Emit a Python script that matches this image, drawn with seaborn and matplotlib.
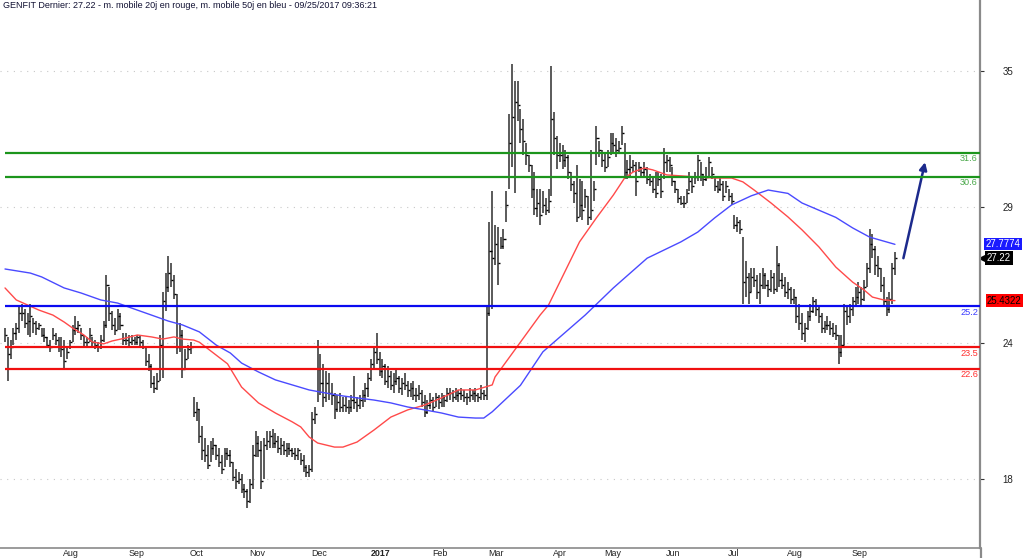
import matplotlib
matplotlib.use('Agg')
import matplotlib.pyplot as plt
import matplotlib.transforms as mtransforms
from matplotlib.lines import Line2D
import pandas as pd
import seaborn as sns

# trading days shown (Euronext holidays removed)
holidays = ['2016-12-26', '2017-04-14', '2017-04-17', '2017-05-01']
dates = pd.bdate_range('2016-07-04', '2017-09-25').drop(pd.to_datetime(holidays))

high = [
    # Jul 2016
    24.3, 23.9, 23.8, 24.3, 24.5, 25.2, 25.3, 25.1, 24.9, 25.3, 24.7, 24.6, 24.5, 24.3, 24.3, 23.9, 23.8, 24.3, 24.1, 23.9,
    # Aug
    23.9, 23.8, 23.5, 23.8, 24.4, 24.8, 24.6, 24.3, 24.0, 23.9, 24.3, 23.9, 23.8, 23.7, 24.0, 24.6, 26.5, 26.0, 25.0, 24.7, 25.1, 24.9, 24.1,
    # Sep
    24.1, 24.0, 24.0, 23.9, 24.0, 24.0, 23.8, 23.5, 23.2, 22.8, 22.3, 22.4, 24.0, 25.8, 26.6, 27.3, 27.0, 26.5, 25.7, 24.5, 24.2, 23.4,
    # Oct
    23.6, 23.7, 21.4, 21.2, 20.9, 20.2, 19.7, 19.4, 19.6, 19.7, 19.4, 19.3, 19.0, 19.3, 19.3, 19.2, 18.7, 18.4, 18.3, 18.2, 17.8,
    # Nov
    17.6, 18.0, 19.4, 20.0, 19.8, 19.6, 19.7, 20.0, 20.0, 20.1, 19.9, 19.8, 19.7, 19.6, 19.5, 19.5, 19.3, 19.3, 19.3, 19.1, 19.0, 18.6,
    # Dec
    18.6, 20.8, 21.0, 23.8, 23.2, 22.8, 22.5, 22.4, 22.0, 21.6, 21.5, 21.6, 21.4, 21.4, 21.3, 21.5, 22.3, 21.4, 21.5, 21.7, 22.0,
    # Jan 2017
    22.4, 23.0, 23.5, 24.1, 23.3, 23.0, 22.8, 22.7, 22.5, 22.4, 22.6, 22.3, 22.2, 22.4, 22.1, 22.0, 22.1, 21.8, 21.9, 21.7, 21.5, 21.3,
    # Feb
    21.6, 21.4, 21.6, 21.5, 21.6, 21.5, 21.8, 21.8, 21.7, 21.8, 21.7, 21.8, 21.7, 21.6, 21.8, 21.7, 21.8, 21.6, 21.9, 21.7,
    # Mar
    25.2, 28.7, 30.0, 28.6, 28.5, 28.1, 28.4, 30.0, 33.2, 35.3, 34.6, 34.6, 33.4, 33.0, 32.0, 31.5, 31.1, 30.8, 30.1, 30.1, 30.0, 29.7, 30.1,
    # Apr
    35.2, 33.3, 32.3, 32.0, 31.9, 31.7, 31.5, 30.8, 30.4, 31.1, 30.5, 30.4, 30.1, 29.8, 31.7, 30.4, 32.7, 32.1,
    # May
    31.7, 31.6, 31.7, 32.4, 32.4, 32.2, 32.1, 32.7, 32.0, 31.3, 31.5, 31.3, 31.2, 31.2, 31.0, 31.2, 31.0, 30.7, 30.6, 30.8, 30.8, 30.7,
    # Jun
    31.8, 31.5, 31.4, 31.0, 30.4, 30.1, 29.8, 29.8, 30.1, 30.8, 30.6, 30.8, 31.5, 31.2, 30.7, 31.0, 31.4, 31.0, 30.6, 30.4, 30.6, 30.4,
    # Jul
    30.4, 30.1, 29.9, 29.0, 28.9, 28.8, 28.1, 27.1, 26.6, 26.8, 26.8, 26.5, 26.6, 26.8, 26.6, 26.3, 26.7, 26.6, 27.7, 27.0, 26.6,
    # Aug
    26.4, 26.2, 26.0, 25.9, 25.6, 25.3, 24.9, 24.5, 25.0, 25.3, 25.6, 25.5, 25.2, 24.9, 24.6, 24.8, 24.6, 24.5, 24.4, 24.0, 24.0, 25.3, 25.2,
    # Sep
    25.3, 25.6, 26.0, 26.2, 26.0, 26.3, 27.0, 28.4, 28.2, 27.7, 27.3, 26.8, 26.4, 25.6, 25.8, 27.0, 27.45,
]
low = [
    23.7, 22.1, 23.0, 23.6, 23.8, 24.1, 24.6, 24.3, 24.0, 23.9, 24.1, 24.0, 24.2, 23.9, 23.7, 23.5, 23.3, 23.8, 23.6, 23.3,
    23.1, 22.6, 23.0, 23.4, 23.7, 24.0, 24.1, 23.8, 23.5, 23.5, 23.7, 23.5, 23.4, 23.3, 23.4, 23.7, 24.3, 24.6, 24.2, 24.0, 24.2, 24.2, 23.6,
    23.6, 23.5, 23.6, 23.6, 23.6, 23.5, 23.4, 22.7, 22.5, 21.8, 21.6, 21.7, 22.1, 22.2, 25.0, 25.8, 26.0, 25.5, 23.2, 23.3, 22.2, 22.6,
    23.0, 23.2, 20.6, 20.4, 19.5, 18.8, 18.7, 18.4, 18.7, 19.0, 18.8, 18.5, 18.2, 18.5, 18.8, 18.5, 17.9, 17.6, 17.8, 17.4, 17.2,
    16.8, 17.0, 17.6, 18.9, 18.9, 17.6, 18.0, 19.2, 19.3, 19.3, 19.3, 19.1, 19.0, 19.0, 18.9, 19.0, 18.9, 18.8, 18.8, 18.6, 18.3, 18.1,
    18.1, 18.3, 20.3, 21.2, 21.5, 21.0, 21.2, 21.3, 21.1, 20.5, 20.8, 20.8, 20.8, 20.8, 20.7, 20.8, 20.9, 20.8, 20.9, 21.0, 21.2,
    21.4, 22.1, 22.6, 22.8, 22.3, 22.2, 21.9, 21.8, 21.7, 21.6, 21.9, 21.6, 21.5, 21.7, 21.4, 21.4, 21.3, 21.2, 21.3, 21.0, 20.6, 20.7,
    20.9, 20.8, 21.0, 20.9, 21.0, 21.0, 21.2, 21.3, 21.2, 21.3, 21.2, 21.3, 21.2, 21.1, 21.2, 21.3, 21.2, 21.2, 21.3, 21.3,
    21.3, 24.8, 25.1, 26.9, 26.1, 27.6, 27.6, 28.7, 30.1, 31.0, 29.9, 32.9, 32.0, 31.5, 31.1, 30.8, 29.7, 29.0, 28.9, 28.6, 29.1, 29.0, 29.1,
    29.8, 31.5, 30.9, 31.2, 30.9, 31.0, 30.5, 30.0, 29.5, 28.7, 28.9, 28.8, 29.3, 28.6, 28.8, 29.6, 31.1, 31.4,
    31.0, 30.8, 31.0, 31.5, 31.6, 31.4, 31.6, 31.9, 30.5, 30.5, 30.6, 30.8, 29.8, 30.8, 30.6, 30.6, 30.3, 30.2, 29.9, 29.7, 30.2, 29.7,
    30.5, 30.8, 30.8, 30.2, 29.9, 29.5, 29.4, 29.3, 29.5, 30.0, 29.9, 30.3, 30.4, 30.4, 30.2, 30.4, 30.6, 30.5, 30.0, 29.9, 30.0, 29.6,
    29.9, 29.6, 29.4, 28.4, 28.3, 28.2, 25.3, 25.6, 25.3, 25.8, 26.0, 25.5, 25.3, 25.9, 25.9, 25.6, 25.8, 25.7, 25.8, 26.0, 25.9,
    25.6, 25.5, 25.3, 25.3, 24.5, 24.2, 23.8, 23.7, 24.2, 24.6, 24.9, 24.8, 24.5, 24.1, 24.1, 24.2, 24.0, 23.9, 23.8, 22.8, 23.1, 23.6, 24.4,
    24.5, 24.8, 25.2, 25.3, 25.2, 25.4, 26.0, 26.6, 27.2, 26.5, 26.4, 25.8, 25.2, 24.8, 24.9, 25.3, 26.5,
]
close = [
    24.0, 23.2, 23.5, 24.1, 24.3, 24.9, 24.9, 24.5, 24.6, 24.8, 24.5, 24.3, 24.4, 24.0, 23.9, 23.6, 23.5, 24.0, 23.8, 23.5,
    23.4, 22.9, 23.3, 23.7, 24.2, 24.3, 24.4, 24.0, 23.7, 23.7, 24.0, 23.7, 23.6, 23.5, 23.8, 24.4, 26.1, 24.9, 24.4, 24.2, 24.8, 24.4, 23.8,
    23.8, 23.7, 23.8, 23.7, 23.9, 23.7, 23.5, 22.9, 22.7, 22.0, 21.8, 22.1, 23.6, 25.4, 26.0, 26.6, 26.3, 25.7, 23.5, 24.0, 22.6, 23.0,
    23.4, 23.5, 20.8, 20.9, 19.8, 19.2, 19.0, 18.6, 19.3, 19.4, 19.0, 18.7, 18.4, 19.1, 19.0, 18.7, 18.1, 17.9, 18.0, 17.6, 17.5,
    17.1, 17.8, 19.0, 19.5, 19.2, 17.9, 19.4, 19.6, 19.8, 19.5, 19.6, 19.3, 19.4, 19.2, 19.3, 19.2, 19.1, 19.0, 19.2, 18.8, 18.5, 18.3,
    18.4, 20.5, 20.7, 22.6, 22.0, 21.4, 22.0, 21.6, 21.5, 20.9, 21.2, 21.0, 21.1, 21.0, 21.0, 21.3, 21.2, 21.1, 21.3, 21.5, 21.8,
    22.2, 22.8, 23.3, 23.0, 22.5, 22.7, 22.1, 22.3, 21.9, 22.1, 22.2, 21.8, 22.0, 21.9, 21.7, 21.8, 21.5, 21.5, 21.6, 21.2, 20.8, 21.1,
    21.3, 21.0, 21.4, 21.2, 21.4, 21.3, 21.6, 21.6, 21.4, 21.5, 21.6, 21.5, 21.4, 21.4, 21.5, 21.6, 21.5, 21.4, 21.6, 21.5,
    24.9, 27.5, 27.2, 27.8, 27.0, 27.7, 28.0, 29.4, 32.0, 33.1, 33.7, 33.6, 32.6, 32.1, 31.5, 31.1, 30.1, 29.3, 29.5, 29.0, 29.4, 29.2, 29.6,
    33.0, 32.2, 31.5, 31.5, 31.3, 31.4, 30.8, 30.3, 29.9, 28.9, 29.4, 29.2, 29.8, 28.9, 29.2, 30.1, 32.2, 31.7,
    31.3, 31.0, 31.4, 32.0, 31.9, 31.7, 31.8, 32.4, 30.8, 30.9, 31.0, 31.1, 30.4, 31.0, 30.8, 30.9, 30.5, 30.4, 30.1, 29.9, 30.5, 30.0,
    31.2, 31.3, 31.1, 30.4, 30.1, 29.7, 29.5, 29.5, 29.9, 30.4, 30.2, 30.6, 31.3, 30.7, 30.5, 30.6, 31.2, 30.7, 30.2, 30.1, 30.3, 29.8,
    30.2, 29.8, 29.6, 28.6, 28.7, 28.4, 26.2, 26.4, 25.8, 26.4, 26.3, 25.8, 26.1, 26.5, 26.1, 25.9, 26.4, 25.9, 26.9, 26.3, 26.1,
    25.8, 25.9, 25.5, 25.6, 24.8, 24.5, 24.1, 24.3, 24.8, 25.0, 25.4, 25.1, 24.8, 24.3, 24.4, 24.4, 24.3, 24.1, 24.0, 23.3, 23.6, 25.0, 24.8,
    25.1, 25.4, 25.6, 25.8, 25.5, 26.0, 26.8, 27.8, 27.6, 26.9, 26.8, 26.1, 25.4, 25.1, 25.5, 26.8, 27.22,
]

# moving averages (bar index, value)
ma20_idx = [0, 4, 8, 12, 17, 21, 24, 28, 31, 35, 38, 43, 47, 52, 56, 60, 63, 67, 69, 74, 79, 84, 90, 96, 102,
            105, 108, 111, 117, 120, 125, 131, 137, 143, 149, 155, 161, 167, 173, 174, 183, 190, 193, 204, 210,
            216, 220, 223, 227, 230, 235, 240, 246, 252, 258, 262, 266, 272, 278, 283, 289, 295, 301, 305, 308, 312, 316]
ma20_val = [25.96, 25.46, 25.25, 25.04, 24.83, 24.54, 24.29, 24.0, 23.71, 23.63, 23.75, 23.88, 24.0, 23.92, 23.83,
            23.92, 23.83, 23.79, 23.7, 23.25, 22.8, 21.83, 21.17, 20.75, 20.38, 20.17, 19.75, 19.5, 19.33, 19.33,
            19.54, 20.04, 20.58, 20.88, 21.08, 21.38, 21.71, 21.71, 21.92, 22.25, 23.7, 24.83, 25.25, 27.88, 28.88,
            29.83, 30.54, 30.79, 30.96, 30.88, 30.67, 30.63, 30.58, 30.54, 30.54, 30.38, 30.04, 29.5, 28.92, 28.38,
            27.67, 26.83, 26.2, 25.88, 25.58, 25.46, 25.4322]
ma50_idx = [0, 9, 13, 21, 27, 34, 40, 45, 52, 58, 63, 69, 75, 80, 84, 90, 96, 102, 108, 114, 120, 125, 131, 137,
            143, 149, 155, 161, 167, 170, 173, 183, 191, 206, 216, 228, 240, 246, 252, 258, 265, 271, 278, 283,
            289, 295, 301, 307, 316]
ma50_val = [26.75, 26.58, 26.42, 25.96, 25.75, 25.46, 25.33, 25.12, 24.83, 24.58, 24.42, 24.13, 23.58, 23.25, 22.83,
            22.46, 22.13, 21.92, 21.71, 21.58, 21.46, 21.38, 21.29, 21.17, 21.0, 20.88, 20.75, 20.58, 20.54, 20.54,
            20.8, 21.9, 23.3, 24.83, 25.96, 27.2, 27.88, 28.29, 28.88, 29.42, 29.8, 30.04, 29.9, 29.5, 29.2, 28.9,
            28.46, 28.08, 27.7774]

levels = [31.6, 30.6, 25.2, 23.5, 22.6]
level_colors = ['#1c951c', '#1c951c', '#0a0af0', '#f01010', '#f01010']
level_text_colors = ['#4aa84a', '#4aa84a', '#3a3aff', '#ff3030', '#ff3030']

ytick_vals = [35, 29.333, 23.667, 18]
ytick_labels = ['35', '29', '24', '18']

arrow_from = (319.0, 27.2)
arrow_to = (326.7, 31.2)

title = 'GENFIT Dernier: 27.22 - m. mobile 20j en rouge, m. mobile 50j en bleu - 09/25/2017 09:36:21'

df = pd.DataFrame({'date': dates, 'high': high, 'low': low, 'close': close})
df['i'] = range(len(df))

sns.set_style('white')
plt.rcParams['font.family'] = ['Liberation Sans', 'DejaVu Sans']

fig = plt.figure(figsize=(10.24, 5.58), dpi=100)
ax = fig.add_axes([0, 10 / 558, 980 / 1024, 548 / 558])
ax.set_xlim(-1.78, 346.2)
ax.set_ylim(15.125, 37.958)

# OHLC bars (high-low line with close tick)
ax.vlines(df['i'], df['low'], df['high'], color='#5a5a5a', lw=1.4, zorder=2)
ax.hlines(df['close'], df['i'], df['i'] + 0.75, color='black', lw=1.0, zorder=2)

sns.lineplot(x=ma20_idx, y=ma20_val, color='#ff4a4a', lw=1.0, ax=ax, zorder=3)
sns.lineplot(x=ma50_idx, y=ma50_val, color='#4a4aff', lw=1.0, ax=ax, zorder=3)

# support / resistance levels
ax.hlines(levels, 0, 346.2, colors=level_colors, lw=1.6, zorder=4)
for lv, tc in zip(levels, level_text_colors):
    ax.annotate(f'{lv}', xy=(1, lv), xycoords=('axes fraction', 'data'), xytext=(-1.5, -1.2),
                textcoords='offset points', ha='right', va='top', fontsize=6.6, color=tc)

ax.annotate('', xy=arrow_to, xytext=arrow_from,
            arrowprops=dict(arrowstyle='-|>', color='#1c2a8c', lw=1.8, mutation_scale=11, shrinkA=0, shrinkB=0))

# month ticks on the first trading day of each month
month_start = df.groupby(df['date'].dt.to_period('M'))['i'].min().iloc[1:]
month_labels = [('2017' if p.month == 1 else p.strftime('%b')) for p in month_start.index]
ax.set_xticks(month_start.values, month_labels)
ax.tick_params(axis='x', direction='out', length=3, width=0.8, color='#777777', pad=-2.2,
               labelsize=6.4, labelcolor='#222222')
shift = mtransforms.ScaledTranslation(2 / 100, 0, fig.dpi_scale_trans)
for lab, p in zip(ax.get_xticklabels(), month_start.index):
    lab.set_horizontalalignment('left')
    lab.set_transform(lab.get_transform() + shift)
    if p.month == 1:
        lab.set_fontweight('bold')

ax.yaxis.tick_right()
ax.set_yticks(ytick_vals, ytick_labels)
ax.tick_params(axis='y', direction='out', length=3, width=0.8, color='#333333', pad=13,
               labelsize=7, labelcolor='#222222')
ax.grid(axis='y', color='#c8c8c8', linestyle=(0, (1, 5)), lw=0.8)
ax.grid(axis='x', visible=False)
ax.set_xlabel('')
ax.set_ylabel('')

for s in ['left', 'top']:
    ax.spines[s].set_visible(False)
ax.spines['right'].set_color('#8a8a8a')
ax.spines['right'].set_linewidth(1.6)
ax.spines['bottom'].set_color('#8a8a8a')
ax.spines['bottom'].set_linewidth(1.2)
fig.add_artist(Line2D([980.5 / 1024] * 2, [0, 10 / 558], color='#8a8a8a', lw=1.6))

# last values on the right
blend = mtransforms.blended_transform_factory(ax.transAxes, ax.transData)
ax.annotate(f'{ma50_val[-1]}', xy=(1, ma50_val[-1]), xycoords=blend, xytext=(4.0, 0),
            textcoords='offset points', ha='left', va='center', fontsize=6.9, color='white',
            bbox=dict(boxstyle='square,pad=0.12', fc='#1a1aff', ec='none'))
ax.annotate(f'{close[-1]}', xy=(1, close[-1]), xycoords=blend, xytext=(4.8, 0),
            textcoords='offset points', ha='left', va='center', fontsize=6.9, color='white',
            bbox=dict(boxstyle='square,pad=0.2', fc='black', ec='none'))
ax.plot([1.0], [close[-1]], marker='<', ms=7, color='black', clip_on=False,
        transform=mtransforms.offset_copy(blend, fig=fig, x=4, y=0, units='dots'))
ax.annotate(f'{ma20_val[-1]}', xy=(1, ma20_val[-1]), xycoords=blend, xytext=(5.0, 0),
            textcoords='offset points', ha='left', va='center', fontsize=6.9, color='black',
            bbox=dict(boxstyle='square,pad=0.15', fc='#ff0000', ec='none'))

fig.text(3 / 1024, 1 - 6 / 558, title, ha='left', va='center', fontsize=6.45, color='#111133')

fig.savefig('out.png', dpi=100)
